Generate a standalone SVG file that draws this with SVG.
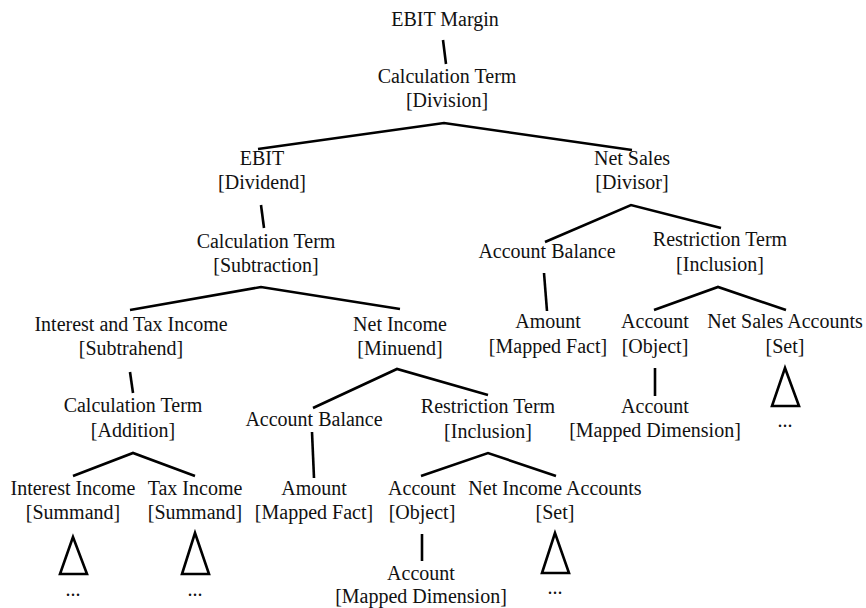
<svg xmlns="http://www.w3.org/2000/svg" width="866" height="608" viewBox="0 0 866 608">
<style>
text{font-family:"Liberation Serif","DejaVu Serif",serif;font-size:20px;text-anchor:middle;fill:#111}
.e{fill:none;stroke:#000;stroke-width:2.6;stroke-linejoin:miter}
.t{fill:none;stroke:#000;stroke-width:2.6}
</style>
<rect width="866" height="608" fill="#fff"/>
<g id="connectors">
<polyline class="e" points="443,40 446,64"/>
<polyline class="e" points="258,149 444,123 632,150"/>
<polyline class="e" points="261,205 264,228"/>
<polyline class="e" points="130,310 261,287 400,309"/>
<polyline class="e" points="130,372 133,393"/>
<polyline class="e" points="73,476 133,453 195,476"/>
<polyline class="e" points="313,408 397,369 488,395"/>
<polyline class="e" points="312,432 314,478"/>
<polyline class="e" points="421,476 488,453 556,476"/>
<polyline class="e" points="422,534 422,561"/>
<polyline class="e" points="545,242 631,205 721,228"/>
<polyline class="e" points="544,273 547,311"/>
<polyline class="e" points="654,310 718,287 786,310"/>
<polyline class="e" points="655,368 655,396"/>
</g>
<g id="n0"><text x="445" y="26">EBIT Margin</text></g>
<g id="n1"><text x="447" y="83">Calculation Term</text><text x="447" y="107">[Division]</text></g>
<g id="n2"><text x="262" y="165">EBIT</text><text x="262" y="189">[Dividend]</text></g>
<g id="n3"><text x="632" y="165">Net Sales</text><text x="632" y="189">[Divisor]</text></g>
<g id="n4"><text x="266" y="248">Calculation Term</text><text x="266" y="272">[Subtraction]</text></g>
<g id="n5"><text x="547" y="258">Account Balance</text></g>
<g id="n6"><text x="720" y="246">Restriction Term</text><text x="720" y="271">[Inclusion]</text></g>
<g id="n7"><text x="131" y="331">Interest and Tax Income</text><text x="131" y="355">[Subtrahend]</text></g>
<g id="n8"><text x="400" y="331">Net Income</text><text x="400" y="355">[Minuend]</text></g>
<g id="n9"><text x="548" y="328">Amount</text><text x="548" y="353">[Mapped Fact]</text></g>
<g id="n10"><text x="655" y="328">Account</text><text x="655" y="353">[Object]</text></g>
<g id="n11"><text x="785" y="328">Net Sales Accounts</text><text x="785" y="353">[Set]</text></g>
<g id="n12"><text x="133" y="412">Calculation Term</text><text x="133" y="437">[Addition]</text></g>
<g id="n13"><text x="314" y="426">Account Balance</text></g>
<g id="n14"><text x="488" y="413">Restriction Term</text><text x="488" y="438">[Inclusion]</text></g>
<g id="n15"><text x="655" y="413">Account</text><text x="655" y="437">[Mapped Dimension]</text></g>
<g id="n16"><text x="73" y="495">Interest Income</text><text x="73" y="519">[Summand]</text></g>
<g id="n17"><text x="195" y="495">Tax Income</text><text x="195" y="519">[Summand]</text></g>
<g id="n18"><text x="314" y="495">Amount</text><text x="314" y="519">[Mapped Fact]</text></g>
<g id="n19"><text x="422" y="495">Account</text><text x="422" y="519">[Object]</text></g>
<g id="n20"><text x="555" y="495">Net Income Accounts</text><text x="555" y="519">[Set]</text></g>
<g id="n21"><text x="421" y="580">Account</text><text x="421" y="603">[Mapped Dimension]</text></g>
<g id="sub1"><polygon class="t" points="785,368 772,406 799,406"/><text x="785" y="427">...</text></g>
<g id="sub2"><polygon class="t" points="73,537 60,574 87,574"/><text x="73" y="596">...</text></g>
<g id="sub3"><polygon class="t" points="195,533 182,574 209,574"/><text x="195" y="596">...</text></g>
<g id="sub4"><polygon class="t" points="555,533 542,573 569,573"/><text x="555" y="594">...</text></g>
</svg>
